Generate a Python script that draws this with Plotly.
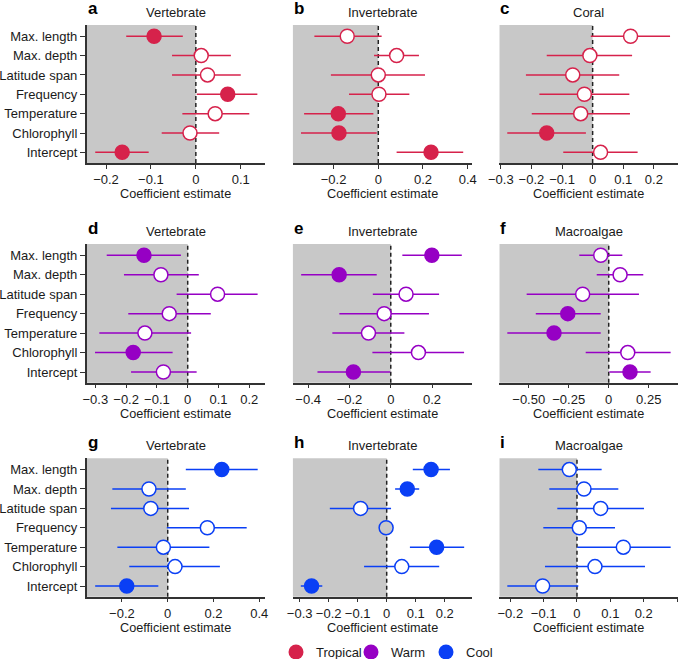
import plotly.graph_objects as go

W, H = 685, 659

predictors = ["Max. length", "Max. depth", "Latitude span", "Frequency",
              "Temperature", "Chlorophyll", "Intercept"]

# ---------------- data (estimate, lower CI, upper CI, significant) ----------------
a_est = [-0.093, 0.012, 0.026, 0.071, 0.043, -0.013, -0.164]
a_lo  = [-0.155, -0.053, -0.053, 0.002, -0.030, -0.076, -0.224]
a_hi  = [-0.029, 0.078, 0.100, 0.137, 0.119, 0.052, -0.105]
a_sig = [1, 0, 0, 1, 0, 0, 1]

b_est = [-0.139, 0.082, 0.000, 0.003, -0.179, -0.176, 0.236]
b_lo  = [-0.286, -0.019, -0.212, -0.131, -0.332, -0.346, 0.082]
b_hi  = [0.015, 0.182, 0.209, 0.139, -0.022, -0.007, 0.380]
b_sig = [0, 0, 0, 0, 1, 1, 1]

c_est = [0.124, -0.009, -0.065, -0.027, -0.039, -0.150, 0.026]
c_lo  = [-0.006, -0.150, -0.218, -0.174, -0.199, -0.279, -0.096]
c_hi  = [0.253, 0.129, 0.087, 0.120, 0.122, -0.022, 0.147]
c_sig = [0, 0, 0, 0, 0, 1, 0]

d_est = [-0.142, -0.087, 0.097, -0.060, -0.139, -0.177, -0.079]
d_lo  = [-0.263, -0.207, -0.036, -0.193, -0.287, -0.301, -0.184]
d_hi  = [-0.022, 0.036, 0.227, 0.075, 0.011, -0.049, 0.029]
d_sig = [1, 0, 0, 0, 0, 1, 0]

e_est = [0.199, -0.250, 0.074, -0.032, -0.108, 0.134, -0.181]
e_lo  = [0.056, -0.434, -0.087, -0.249, -0.283, -0.089, -0.355]
e_hi  = [0.344, -0.068, 0.234, 0.185, 0.066, 0.355, -0.003]
e_sig = [1, 1, 0, 0, 0, 0, 1]

f_est = [-0.050, 0.071, -0.163, -0.256, -0.342, 0.119, 0.133]
f_lo  = [-0.184, -0.075, -0.513, -0.456, -0.634, -0.144, 0.004]
f_hi  = [0.085, 0.216, 0.189, -0.050, -0.050, 0.387, 0.262]
f_sig = [0, 0, 0, 1, 1, 0, 1]

g_est = [0.236, -0.082, -0.074, 0.173, -0.019, 0.032, -0.179]
g_lo  = [0.079, -0.242, -0.248, -0.004, -0.220, -0.168, -0.317]
g_hi  = [0.393, 0.079, 0.093, 0.345, 0.182, 0.228, -0.041]
g_sig = [1, 0, 0, 0, 0, 0, 1]

h_est = [0.153, 0.071, -0.090, -0.002, 0.172, 0.052, -0.259]
h_lo  = [0.090, 0.029, -0.196, -0.010, 0.080, -0.078, -0.296]
h_hi  = [0.218, 0.112, 0.015, 0.006, 0.267, 0.181, -0.222]
h_sig = [1, 1, 0, 2, 1, 0, 1]   # 2 = grey-filled point

i_est = [-0.023, 0.021, 0.071, 0.007, 0.139, 0.054, -0.103]
i_lo  = [-0.116, -0.083, -0.059, -0.101, 0.001, -0.096, -0.209]
i_hi  = [0.074, 0.124, 0.201, 0.114, 0.281, 0.204, 0.004]
i_sig = [0, 0, 0, 0, 0, 0, 0]

panel_letters = ["a", "b", "c", "d", "e", "f", "g", "h", "i"]
panel_titles = ["Vertebrate", "Invertebrate", "Coral",
                "Vertebrate", "Invertebrate", "Macroalgae",
                "Vertebrate", "Invertebrate", "Macroalgae"]
zones = ["Tropical", "Warm", "Cool"]
zone_colors = {"Tropical": "#d6224b", "Warm": "#9600c4", "Cool": "#0a3ff5"}

a_ticks = [-0.2, -0.1, 0, 0.1]
b_ticks = [-0.2, 0, 0.2, 0.4]
c_ticks = [-0.3, -0.2, -0.1, 0, 0.1, 0.2]
d_ticks = [-0.3, -0.2, -0.1, 0, 0.1, 0.2]
e_ticks = [-0.4, -0.2, 0, 0.2]
f_ticks = [-0.50, -0.25, 0, 0.25]
g_ticks = [-0.2, 0, 0.2, 0.4]
h_ticks = [-0.3, -0.2, -0.1, 0, 0.1, 0.2, 0.3]
i_ticks = [-0.2, -0.1, 0, 0.1, 0.2, 0.3]
f_ticktext = ["\u22120.50", "\u22120.25", "0", "0.25"]

panels = [
    (a_est, a_lo, a_hi, a_sig, a_ticks, [-0.243, 0.154]),
    (b_est, b_lo, b_hi, b_sig, b_ticks, [-0.383, 0.418]),
    (c_est, c_lo, c_hi, c_sig, c_ticks, [-0.305, 0.279]),
    (d_est, d_lo, d_hi, d_sig, d_ticks, [-0.328, 0.251]),
    (e_est, e_lo, e_hi, e_sig, e_ticks, [-0.475, 0.392]),
    (f_est, f_lo, f_hi, f_sig, f_ticks, [-0.684, 0.433]),
    (g_est, g_lo, g_hi, g_sig, g_ticks, [-0.354, 0.425]),
    (h_est, h_lo, h_hi, h_sig, h_ticks, [-0.324, 0.293]),
    (i_est, i_lo, i_hi, i_sig, i_ticks, [-0.233, 0.303]),
]

# ---------------- layout geometry (pixels) ----------------
col_px = [(86.7, 265.0), (292.7, 471.7), (499.3, 678.0)]
row_px = [(25.0, 163.0), (244.0, 382.7), (458.3, 596.7)]
FONT = "Liberation Sans, Arial, Helvetica, sans-serif"
GREY = "#c8c8c8"
AXC = "#333333"


def fmt(v):
    if v == 0:
        return "0"
    s = ("%g" % abs(v))
    return ("\u2212" if v < 0 else "") + s


fig = go.Figure()
layout = dict(width=W, height=H,
              margin=dict(l=0, r=0, t=0, b=0, pad=0, autoexpand=False),
              paper_bgcolor="white", plot_bgcolor="rgba(0,0,0,0)",
              font=dict(family=FONT, size=13, color="#1a1a1a"),
              showlegend=True)
shapes, annotations = [], []
yidx = list(range(len(predictors)))

for k, (est, lo, hi, sig, ticks, xr) in enumerate(panels):
    r, c = divmod(k, 3)
    zone = zones[r]
    col = zone_colors[zone]
    n = k + 1
    xa = "xaxis" if n == 1 else "xaxis%d" % n
    ya = "yaxis" if n == 1 else "yaxis%d" % n
    xs = "x" if n == 1 else "x%d" % n
    ys = "y" if n == 1 else "y%d" % n
    x0, x1 = col_px[c]
    y0, y1 = row_px[r]

    fills = [col if s == 1 else (GREY if s == 2 else "white") for s in sig]
    fig.add_trace(go.Scatter(
        x=est, y=yidx, xaxis=xs, yaxis=ys, mode="markers", showlegend=False,
        marker=dict(size=14, color=fills, line=dict(color=col, width=1.5)),
        error_x=dict(type="data", symmetric=False,
                     array=[h - e for h, e in zip(hi, est)],
                     arrayminus=[e - l for e, l in zip(est, lo)],
                     color=col, thickness=1.5, width=0),
        cliponaxis=False, hoverinfo="skip"))

    ticktext = f_ticktext if k == 5 else [fmt(t) for t in ticks]
    layout[xa] = dict(domain=[x0 / W, x1 / W], range=xr, anchor=ys,
                      showgrid=False, zeroline=False, showline=True,
                      linecolor=AXC, linewidth=1.5, ticks="outside",
                      ticklen=4, tickwidth=1.2, tickcolor=AXC,
                      tickvals=ticks, ticktext=ticktext,
                      tickfont=dict(size=13, color="#1a1a1a"), fixedrange=True)
    ydict = dict(domain=[1 - y1 / H, 1 - y0 / H], range=[6.55, -0.58],
                 anchor=xs, showgrid=False, zeroline=False, fixedrange=True)
    if c == 0:
        ydict.update(showline=True, linecolor=AXC, linewidth=1.5,
                     ticks="outside", ticklen=5, tickwidth=1.2, tickcolor=AXC,
                     tickvals=yidx, ticktext=predictors,
                     tickfont=dict(size=13, color="#1a1a1a"))
    else:
        ydict.update(showline=False, showticklabels=False, ticks="")
    layout[ya] = ydict

    # negative-effect shading and zero line
    shapes.append(dict(type="rect", xref=xs, yref=ys + " domain",
                       x0=xr[0], x1=0, y0=0, y1=1, fillcolor=GREY,
                       line=dict(width=0), layer="below"))
    shapes.append(dict(type="line", xref=xs, yref=ys + " domain",
                       x0=0, x1=0, y0=0, y1=1,
                       line=dict(color="#222222", width=1.5, dash="4px,3px"),
                       layer="below"))

    # panel letter, title and axis title
    annotations.append(dict(text="<b>%s</b>" % panel_letters[k], xref="paper",
                            yref="paper", x=(x0 - 1) / W, y=1 - (y0 - 16) / H,
                            xanchor="left", yanchor="middle", showarrow=False,
                            font=dict(size=17, color="black")))
    annotations.append(dict(text=panel_titles[k], xref="paper", yref="paper",
                            x=(x0 + x1) / 2 / W, y=1 - (y0 - 12.5) / H,
                            xanchor="center", yanchor="middle", showarrow=False,
                            font=dict(size=13, color="#1a1a1a")))
    annotations.append(dict(text="Coefficient estimate", xref="paper",
                            yref="paper", x=(x0 + x1) / 2 / W,
                            y=1 - (y1 + 30.8) / H, xanchor="center",
                            yanchor="middle", showarrow=False,
                            font=dict(size=12.7, color="#1a1a1a")))

# legend entries
for z in zones:
    fig.add_trace(go.Scatter(x=[None], y=[None], mode="markers", name=z,
                             marker=dict(size=15, color=zone_colors[z]),
                             showlegend=True))

layout["shapes"] = shapes
layout["annotations"] = annotations
layout["legend"] = dict(orientation="h", x=276 / W, xanchor="left",
                        y=1 - 637 / H, yanchor="top",
                        font=dict(size=13, color="#1a1a1a"),
                        bgcolor="rgba(0,0,0,0)", itemwidth=30,
                        entrywidth=30, entrywidthmode="pixels")
fig.update_layout(**layout)
fig.write_html("out.html", config={"displayModeBar": False},
               post_script="document.body.style.margin='0';"
                           "document.body.style.padding='0';")
